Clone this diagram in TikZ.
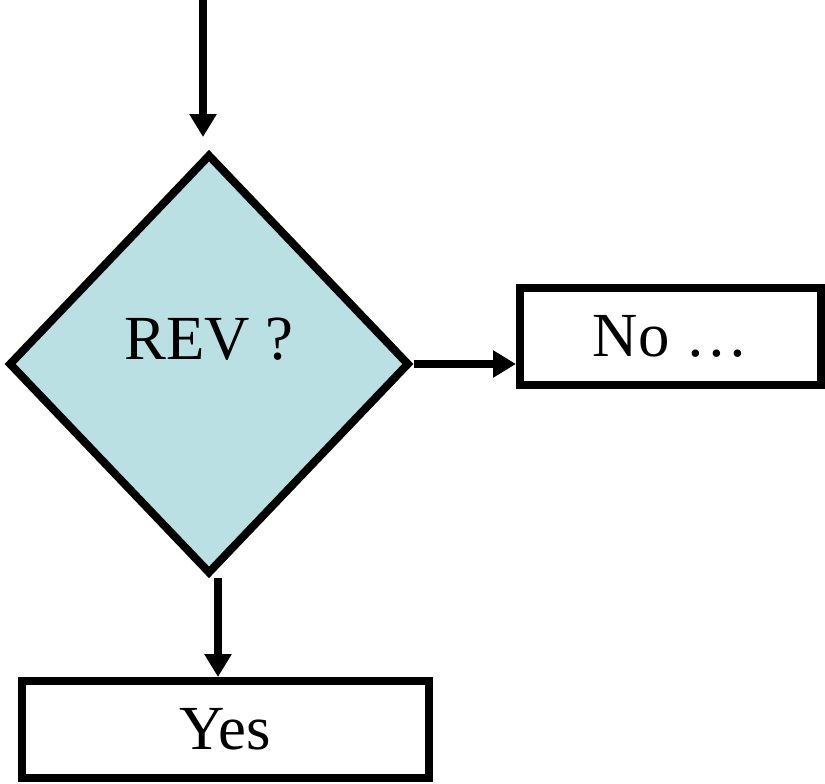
\documentclass[tikz,border=0pt]{standalone}
\usepackage{fontspec}
\setmainfont{Liberation Serif}
\usetikzlibrary{shapes.geometric,positioning,arrows.meta}
\definecolor{revblue}{HTML}{BBE0E3}
\tikzset{
    flowline/.style={line width=8bp, -{Triangle[length=23bp,width=26bp]}},
    decision/.style={diamond, draw, line width=8bp, fill=revblue, inner sep=0pt, minimum width=401bp, minimum height=420bp},
    outcome/.style={rectangle, draw, line width=8bp, inner sep=0pt, minimum height=97bp},
    bigtext/.style={font=\fontsize{63}{70}\selectfont}
}

\begin{document}
\begin{tikzpicture}[x=1bp, y=-1bp]
    \useasboundingbox (0,0) rectangle (825,784);

    % Decision
    \node[decision] (rev) at (209,364) {};
    \node[bigtext] (revtxt) at (209,339) {REV ?};

    % Outcomes
    \node[outcome, bigtext, minimum width=301bp] (no) at (670.5,336.5) {No …};
    \node[outcome, bigtext, minimum width=407bp] (yes) at (225.5,729.5) {Yes};

    % Flow
    \coordinate (start) at (203,-5);
    \coordinate (down) at ([xshift=9bp]rev.south);
    \draw[flowline] (start) -- (start |- 0,137);
    \draw[flowline] (rev.east) -- (rev.east -| no.west);
    \draw[flowline] (down) -- (down |- yes.north);
\end{tikzpicture}
\end{document}
